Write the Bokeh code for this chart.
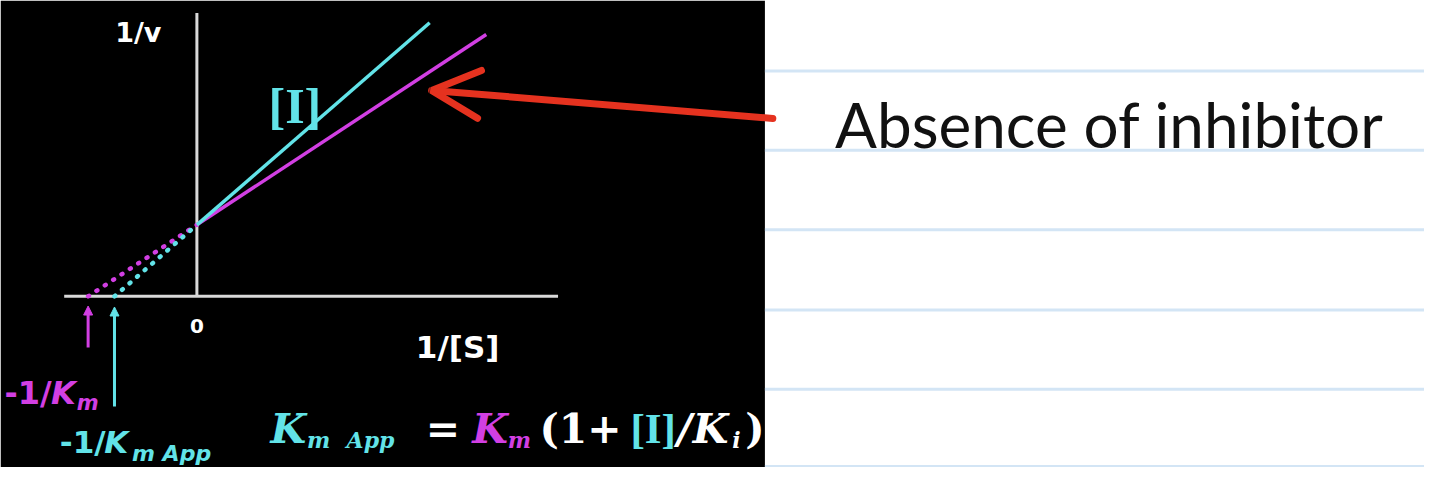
import numpy as np
from bokeh.plotting import figure
from bokeh.models import Range1d, BoxAnnotation, Arrow, NormalHead, OpenHead
from bokeh.core.properties import value
from bokeh.embed import file_html
from bokeh.resources import INLINE

# Lineweaver-Burk, competitive inhibition (arbitrary units)
km = 1.0            # no inhibitor
km_app = 1.32       # with [I]
vmax = 1.0
s_inv_end = [2.66, 2.14]    # last 1/[S] drawn for km, km_app
axis_x = [-1.22, 3.32]      # extent of the 1/[S] axis line
axis_y = [0.0, 3.96]        # extent of the 1/v axis line
tick_x = [0]

# notebook rules on the right (page pixels)
rule_y = [73, 155, 237, 320, 402, 482]

MAGENTA = "#d23fe3"
CYAN = "#62e3e8"
RED = "#e5321f"
GREY = "#d9d9d9"

# page px (1440x483 slide) -> data: origin at (198.6, 306), 110 px per x unit, 74 px per y unit
OX, OY, SX, SY = 198.6, 306.0, 110.0, 74.0
PW, PH = 1440, 483
W, H = 1424, 467

p = figure(width=W, height=H,
           x_range=Range1d((0 - OX) / SX, (PW - OX) / SX),
           y_range=Range1d((OY - PH) / SY, OY / SY),
           x_axis_type=None, y_axis_type=None, toolbar_location=None,
           output_backend="svg", min_border=0, outline_line_color=None,
           background_fill_color="white", border_fill_color="white")
p.extra_x_ranges = {"px": Range1d(0, PW)}
p.extra_y_ranges = {"py": Range1d(PH, 0)}

# black slide on the left
p.add_layout(BoxAnnotation(right=773, x_range_name="px", fill_color="black",
                           fill_alpha=1.0, line_color=None, level="underlay"))
# ruled paper on the right
p.segment(x0=773, x1=PW, y0=rule_y, y1=rule_y, x_range_name="px", y_range_name="py",
          line_color="#d3e5f5", line_width=3)

# axes
p.line(axis_x, [0, 0], line_color=GREY, line_width=3)
p.line([0, 0], axis_y, line_color=GREY, line_width=3)

# lines: 1/v = (Km/Vmax)(1/[S]) + 1/Vmax
for k, col, xe in zip([km, km_app], [MAGENTA, CYAN], s_inv_end):
    xs = np.array([0.0, xe])
    p.line(xs, k / vmax * xs + 1 / vmax, line_color=col, line_width=3.5)
    xd = np.array([-1 / k, 0.0])
    p.line(xd, k / vmax * xd + 1 / vmax, line_color=col, line_width=4.5,
           line_dash="1 9", line_cap="round")

# arrows to the x intercepts
p.add_layout(Arrow(end=NormalHead(size=9, fill_color=MAGENTA, line_color=MAGENTA),
                   x_start=-1 / km, x_end=-1 / km, y_start=359, y_end=316,
                   y_range_name="py", line_color=MAGENTA, line_width=3))
p.add_layout(Arrow(end=NormalHead(size=9, fill_color=CYAN, line_color=CYAN),
                   x_start=-1 / km_app, x_end=-1 / km_app, y_start=420, y_end=317,
                   y_range_name="py", line_color=CYAN, line_width=3))

# red hand-drawn arrow
p.add_layout(Arrow(end=OpenHead(size=48, line_color=RED, line_width=7, line_cap="round"),
                   x_start=781, y_start=122, x_end=436, y_end=93,
                   x_range_name="px", y_range_name="py",
                   line_color=RED, line_width=7, line_cap="round"))


def label(txt, x, y, color, size, font="DejaVu Sans", style="bold", align="left"):
    p.text(x=[x], y=[y], text=[txt], x_range_name="px", y_range_name="py",
           text_color=color, text_font=value(font), text_font_size=f"{size}px",
           text_font_style=style, text_align=align, text_baseline="alphabetic")


p.text(x=tick_x, y=[337], text=[str(t) for t in tick_x], y_range_name="py",
       text_color="white", text_font=value("DejaVu Sans"), text_font_size="20px",
       text_font_style="bold", text_align="center", text_baseline="alphabetic")
label("1/v", 116, 33, "white", 27)
label("1/[S]", 420, 358, "white", 31)
label("[I]", 271, 109, CYAN, 50, "Liberation Serif", "bold")

label("-1/", 4, 406, MAGENTA, 32)
label("K", 51, 406, MAGENTA, 32, style="bold italic")
label("m", 77, 416, MAGENTA, 21, style="bold italic")

label("-1/", 60, 457, CYAN, 31)
label("K", 105, 457, CYAN, 31, style="bold italic")
label("m App", 133, 469, CYAN, 22, style="bold italic")

SERIF = "DejaVu Serif"
label("K", 273, 443, CYAN, 41, SERIF, "bold italic")
label("m", 310, 455, CYAN, 22, SERIF, "bold italic")
label("App", 350, 455, CYAN, 22, SERIF, "bold italic")
label("=", 430, 443, "white", 41, SERIF, "bold")
label("K", 477, 443, MAGENTA, 41, SERIF, "bold italic")
label("m", 513, 455, MAGENTA, 22, SERIF, "bold italic")
label("(1+", 545, 443, "white", 41, SERIF, "bold")
label("[I]", 637, 443, CYAN, 43, "Liberation Serif", "bold")
label("/", 684, 443, "white", 41, SERIF, "bold italic")
label("K", 700, 443, "white", 41, SERIF, "bold italic")
label("i", 740, 455, "white", 22, SERIF, "bold italic")
label(")", 753, 443, "white", 41, SERIF, "bold")

label("Absence of inhibitor", 844, 128, "#111111", 62, "Lato", "normal")

open("out.html", "w").write(file_html(p, INLINE))
